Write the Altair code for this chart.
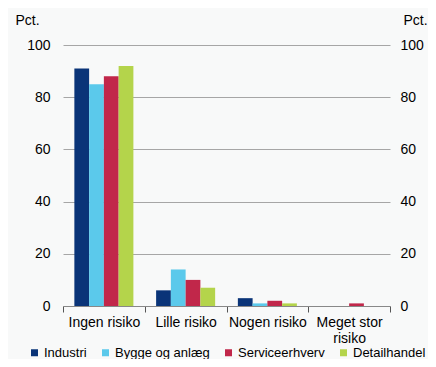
import altair as alt
import pandas as pd

categories = ["Ingen risiko", "Lille risiko", "Nogen risiko", "Meget stor risiko"]
series = ["Industri", "Bygge og anlæg", "Serviceerhverv", "Detailhandel"]
colors = ["#0a3478", "#5bc9eb", "#c1274a", "#b4d44b"]
industri = [91, 6, 3, 0]
bygge = [85, 14, 1, 0]
service = [88, 10, 2, 1]
detail = [92, 7, 1, 0]

rows = []
for s, vals in zip(series, [industri, bygge, service, detail]):
    for c, v in zip(categories, vals):
        rows.append({"kategori": c, "serie": s, "værdi": v})
df = pd.DataFrame(rows)

FONT = "Liberation Sans"
FS = 14
yscale = alt.Scale(domain=[0, 100])
xenc = alt.X(
    "kategori:N",
    sort=categories,
    scale=alt.Scale(paddingInner=0, paddingOuter=0),
    axis=alt.Axis(
        title=None,
        labelAngle=0,
        tickBand="extent",
        tickSize=6,
        tickColor="#555555",
        domainColor="#888888",
        labelPadding=3,
        labelFontSize=FS,
        labelColor="#000000",
        labelFont=FONT,
        labelLineHeight=16,
        labelExpr="datum.label == 'Meget stor risiko' ? ['Meget stor', 'risiko'] : datum.label",
    ),
)
xoff = alt.XOffset("serie:N", sort=series, scale=alt.Scale(paddingInner=0, paddingOuter=0.77))
color = alt.Color(
    "serie:N",
    sort=series,
    scale=alt.Scale(domain=series, range=colors),
    legend=alt.Legend(
        title=None,
        orient="none",
        direction="horizontal",
        legendX=-35,
        legendY=301,
        symbolType="square",
        symbolSize=49,
        symbolStrokeWidth=0,
        labelFontSize=13,
        labelFont=FONT,
        labelColor="#000000",
        labelOffset=3,
        columnPadding=12,
    ),
)

left = alt.Chart(df).mark_bar().encode(
    x=xenc,
    xOffset=xoff,
    y=alt.Y(
        "værdi:Q",
        scale=yscale,
        axis=alt.Axis(
            title="Pct.",
            titleAngle=0,
            titleAlign="left",
            titleBaseline="middle",
            titleX=-48,
            titleY=-25,
            titleFontWeight="normal",
            titleFontSize=FS,
            titleFont=FONT,
            titleColor="#000000",
            values=[0, 20, 40, 60, 80, 100],
            grid=True,
            gridColor="#a6a6a6",
            domain=False,
            ticks=False,
            labelPadding=13,
            labelFontSize=FS,
            labelFont=FONT,
            labelColor="#000000",
        ),
    ),
    color=color,
)

right = alt.Chart(df).mark_bar(opacity=0).encode(
    x=xenc,
    xOffset=xoff,
    y=alt.Y(
        "værdi:Q",
        scale=yscale,
        axis=alt.Axis(
            orient="right",
            title="Pct.",
            titleAngle=0,
            titleAlign="left",
            titleBaseline="middle",
            titleX=13,
            titleY=-25,
            titleFontWeight="normal",
            titleFontSize=FS,
            titleFont=FONT,
            titleColor="#000000",
            values=[0, 20, 40, 60, 80, 100],
            grid=False,
            domain=False,
            ticks=False,
            labelPadding=10,
            labelFontSize=FS,
            labelFont=FONT,
            labelColor="#000000",
        ),
    ),
)

chart = (
    alt.layer(left, right)
    .resolve_axis(y="independent")
    .properties(
        width=327,
        height=261,
        background="#f8f9f9",
        padding={"left": 55, "top": 37, "right": 38, "bottom": 53},
        autosize=alt.AutoSizeParams(type="none"),
    )
    .configure_view(stroke=None)
)

chart.save("out.html", embed_options={"renderer": "svg", "actions": False})
